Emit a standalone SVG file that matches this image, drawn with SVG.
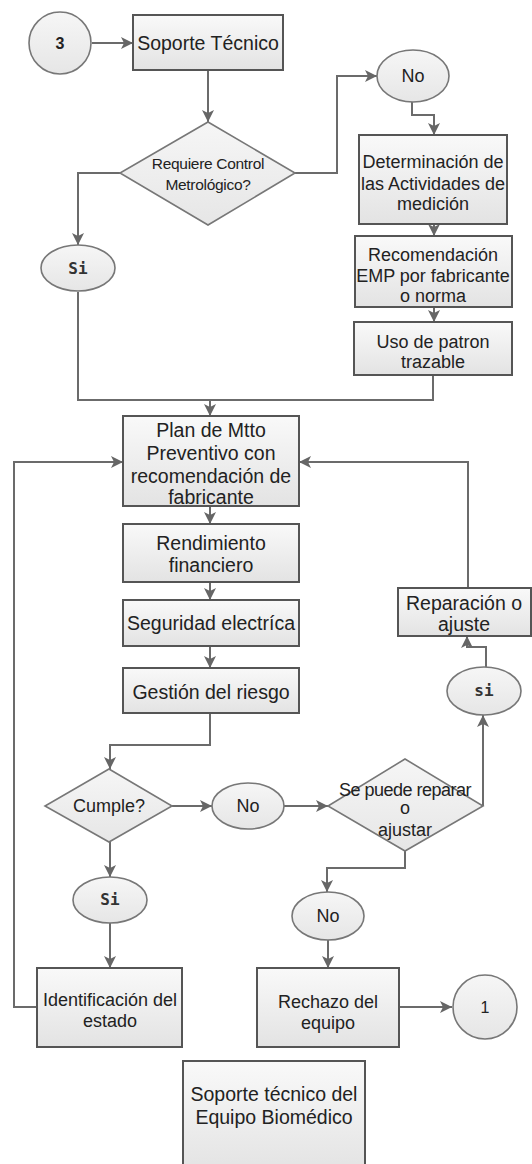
<svg xmlns="http://www.w3.org/2000/svg" width="532" height="1164" viewBox="0 0 532 1164">
  <defs>
    <linearGradient id="boxFill" x1="0" y1="0" x2="0" y2="1">
      <stop offset="0" stop-color="#f9f9f9"/>
      <stop offset="1" stop-color="#e3e3e3"/>
    </linearGradient>
    <linearGradient id="ovalFill" x1="0" y1="0" x2="0" y2="1">
      <stop offset="0" stop-color="#f6f6f6"/>
      <stop offset="1" stop-color="#e6e6e6"/>
    </linearGradient>
    <marker id="arrow" viewBox="0 0 12 12" refX="12" refY="6" markerWidth="12" markerHeight="12" markerUnits="userSpaceOnUse" orient="auto">
      <path d="M0,0 L12,6 L0,12 L3,6 z" fill="#666"/>
    </marker>
    <style>
      .box { fill: url(#boxFill); stroke: #555; stroke-width: 2; }
      .oval { fill: url(#ovalFill); stroke: #777; stroke-width: 1.6; }
      .dia { fill: url(#ovalFill); stroke: #777; stroke-width: 1.6; }
      .t { font-family: "Liberation Sans", Arial, sans-serif; font-size: 18px; fill: #222; text-anchor: middle; }
      .tl { font-size: 19.5px; }
      .ts { font-size: 15.5px; letter-spacing: -0.3px; }
      .mono { font-family: "DejaVu Sans Mono", "Liberation Mono", monospace; font-size: 16px; font-weight: bold; fill: #333; text-anchor: middle; }
      .c { fill: none; stroke: #6b6b6b; stroke-width: 2; }
      .a { marker-end: url(#arrow); }
    </style>
  </defs>

  <!-- connectors -->
  <g id="connectors">
    <path class="c a" d="M92,43 H133"/>
    <path class="c a" d="M208,70 V122"/>
    <path class="c a" d="M120,173 H78 V245"/>
    <path class="c a" d="M295,173 H337 V76 H377"/>
    <path class="c a" d="M412,102 V115 H434 V135"/>
    <path class="c a" d="M434,224 V236"/>
    <path class="c a" d="M434,307 V322"/>
    <path class="c" d="M78,292 V400 H433 V375"/>
    <path class="c a" d="M210,400 V416"/>
    <path class="c a" d="M210,506 V524"/>
    <path class="c a" d="M210,582 V600"/>
    <path class="c a" d="M210,646 V668"/>
    <path class="c a" d="M210,713 V745 H110 V769"/>
    <path class="c a" d="M172,806 H212"/>
    <path class="c a" d="M284,806 H328"/>
    <path class="c a" d="M483,806 V715"/>
    <path class="c a" d="M486,667 V647 H467 V636"/>
    <path class="c a" d="M468,588 V462 H299"/>
    <path class="c a" d="M405,851 V868 H327 V892"/>
    <path class="c a" d="M328,940 V968"/>
    <path class="c a" d="M399,1007 H452"/>
    <path class="c a" d="M110,842 V877"/>
    <path class="c a" d="M110,923 V968"/>
    <path class="c a" d="M37,1007 H14 V462 H123"/>
  </g>

  <!-- start connector 3 -->
  <g id="start3">
    <circle class="oval" cx="60" cy="43" r="31"/>
    <text class="t" x="60" y="49" style="font-weight:bold;font-size:16px">3</text>
  </g>

  <g id="soporte">
    <rect class="box" x="133" y="15" width="150" height="55"/>
    <text class="t tl" x="208" y="50">Soporte Técnico</text>
  </g>

  <g id="requiere">
    <polygon class="dia" points="208,122 295,173 208,225 120,173"/>
    <text class="t ts" x="208" y="169">Requiere Control</text>
    <text class="t ts" x="208" y="190">Metrológico?</text>
  </g>

  <g id="no1">
    <ellipse class="oval" cx="413" cy="76" rx="36" ry="26"/>
    <text class="t" x="413" y="82">No</text>
  </g>

  <g id="si1">
    <ellipse class="oval" cx="78" cy="268" rx="37" ry="23"/>
    <text class="mono" x="78" y="274">Si</text>
  </g>

  <g id="determinacion">
    <rect class="box" x="359" y="135" width="148" height="89"/>
    <text class="t" x="433" y="168">Determinación de</text>
    <text class="t" x="433" y="190">las Actividades de</text>
    <text class="t" x="433" y="210">medición</text>
  </g>

  <g id="recomendacion">
    <rect class="box" x="355" y="236" width="157" height="71"/>
    <text class="t" x="433" y="261">Recomendación</text>
    <text class="t" x="433" y="282">EMP por fabricante</text>
    <text class="t" x="433" y="302">o norma</text>
  </g>

  <g id="uso">
    <rect class="box" x="354" y="322" width="158" height="53"/>
    <text class="t" x="433" y="348">Uso de patron</text>
    <text class="t" x="433" y="368">trazable</text>
  </g>

  <g id="plan">
    <rect class="box" x="123" y="416" width="176" height="90"/>
    <text class="t tl" x="211" y="437">Plan de Mtto</text>
    <text class="t tl" x="211" y="460">Preventivo con</text>
    <text class="t tl" x="211" y="483">recomendación de</text>
    <text class="t tl" x="211" y="504">fabricante</text>
  </g>

  <g id="rendimiento">
    <rect class="box" x="123" y="524" width="176" height="58"/>
    <text class="t tl" x="211" y="550">Rendimiento</text>
    <text class="t tl" x="211" y="572">financiero</text>
  </g>

  <g id="seguridad">
    <rect class="box" x="123" y="600" width="176" height="46"/>
    <text class="t tl" x="211" y="630">Seguridad electríca</text>
  </g>

  <g id="gestion">
    <rect class="box" x="123" y="668" width="176" height="45"/>
    <text class="t tl" x="211" y="699">Gestión del riesgo</text>
  </g>

  <g id="reparacion">
    <rect class="box" x="398" y="588" width="133" height="48"/>
    <text class="t tl" x="464" y="610">Reparación o</text>
    <text class="t tl" x="464" y="631">ajuste</text>
  </g>

  <g id="cumple">
    <polygon class="dia" points="109,769 172,806 109,842 45,806"/>
    <text class="t" x="109" y="812">Cumple?</text>
  </g>

  <g id="no2">
    <ellipse class="oval" cx="248" cy="806" rx="36" ry="23"/>
    <text class="t" x="248" y="812">No</text>
  </g>

  <g id="sepuede">
    <polygon class="dia" points="405,759 483,806 405,851 328,806"/>
    <text class="t" x="405" y="796" style="letter-spacing:-0.5px">Se puede reparar</text>
    <text class="t" x="405" y="814">o</text>
    <text class="t" x="405" y="836">ajustar</text>
  </g>

  <g id="si2">
    <ellipse class="oval" cx="484" cy="691" rx="37" ry="24"/>
    <text class="mono" x="484" y="696">si</text>
  </g>

  <g id="si3">
    <ellipse class="oval" cx="110" cy="900" rx="37" ry="23"/>
    <text class="mono" x="110" y="905">Si</text>
  </g>

  <g id="no3">
    <ellipse class="oval" cx="328" cy="916" rx="36" ry="24"/>
    <text class="t" x="328" y="922">No</text>
  </g>

  <g id="identificacion">
    <rect class="box" x="37" y="968" width="145" height="79"/>
    <text class="t" x="110" y="1006">Identificación del</text>
    <text class="t" x="110" y="1027">estado</text>
  </g>

  <g id="rechazo">
    <rect class="box" x="257" y="968" width="142" height="79"/>
    <text class="t" x="328" y="1008">Rechazo del</text>
    <text class="t" x="328" y="1029">equipo</text>
  </g>

  <g id="end1">
    <circle class="oval" cx="485" cy="1007" r="32"/>
    <text class="t" x="485" y="1013" style="font-size:16px">1</text>
  </g>

  <g id="titulo">
    <rect class="box" x="183" y="1061" width="182" height="112"/>
    <text class="t tl" x="274" y="1101">Soporte técnico del</text>
    <text class="t tl" x="274" y="1124">Equipo Biomédico</text>
  </g>
</svg>
